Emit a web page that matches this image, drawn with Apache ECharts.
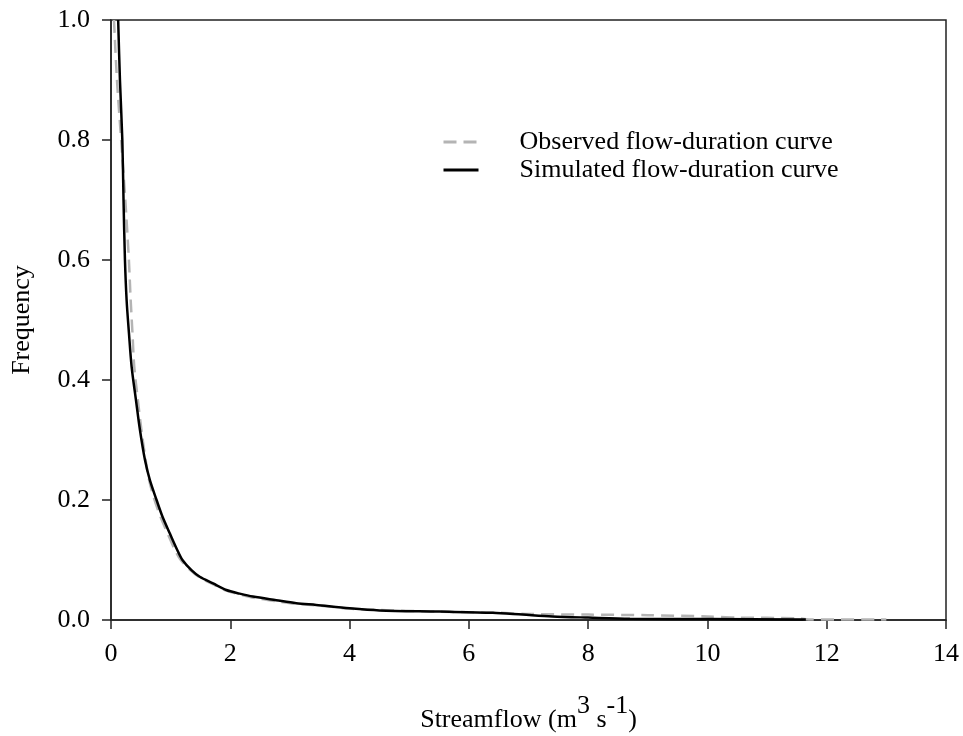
<!DOCTYPE html>
<html>
<head>
<meta charset="utf-8">
<script src="https://cdn.jsdelivr.net/npm/echarts@6/dist/echarts.min.js"></script>
<style>
  html, body { margin: 0; padding: 0; background: #fff; }
  #chart { width: 963px; height: 736px; }
</style>
</head>
<body>
<div id="chart"></div>
<script>
  // observed flow-duration curve
  var obsFlow = [0.05, 0.1, 0.17, 0.24, 0.30, 0.33, 0.36, 0.39, 0.45, 0.51, 0.58, 0.64, 0.73, 0.83, 0.95,
    1.07, 1.17, 1.33, 1.47, 1.7, 1.93, 2.15, 2.4, 2.8, 3.1, 3.5, 4.0, 4.7, 5.5, 6.5, 7.0, 8.0, 9.0,
    10.0, 10.5, 11.5, 11.7, 13.0];
  var obsFreq = [1.0, 0.9, 0.8, 0.7, 0.6, 0.533, 0.478, 0.422, 0.367, 0.317, 0.267, 0.233, 0.2, 0.172, 0.144,
    0.117, 0.1, 0.083, 0.072, 0.06, 0.049, 0.043, 0.037, 0.031, 0.027, 0.024, 0.019, 0.016, 0.014, 0.012, 0.01, 0.009, 0.008,
    0.006, 0.004, 0.003, 0.001, 0.001];

  // simulated flow-duration curve
  var simFlow = [0.12, 0.15, 0.19, 0.21, 0.234, 0.262, 0.301, 0.346, 0.418, 0.485, 0.569, 0.652, 0.764, 0.864, 0.987,
    1.109, 1.198, 1.349, 1.488, 1.711, 1.934, 2.157, 2.38, 2.77, 3.105, 3.44, 4.0, 4.5, 5.5, 6.4, 6.9, 7.4, 8.0,
    8.7, 10.0, 11.65];
  var simFreq = [1.0, 0.9, 0.8, 0.7, 0.6, 0.533, 0.478, 0.422, 0.367, 0.317, 0.267, 0.233, 0.2, 0.172, 0.144,
    0.117, 0.1, 0.083, 0.072, 0.061, 0.05, 0.044, 0.039, 0.033, 0.028, 0.025, 0.0195, 0.016, 0.014, 0.012, 0.009, 0.006, 0.004,
    0.002, 0.0015, 0.001];

  var xTicks = [0, 2, 4, 6, 8, 10, 12, 14];
  var yTicks = [0, 0.2, 0.4, 0.6, 0.8, 1.0];

  function pairs(xs, ys) {
    var out = [];
    for (var i = 0; i < xs.length; i++) {
      out.push([xs[i], ys[i]]);
    }
    return out;
  }

  var font = "'Liberation Serif', 'Times New Roman', serif";
  var chart = echarts.init(document.getElementById('chart'));

  var option = {
    backgroundColor: '#fff',
    animation: false,
    textStyle: { fontFamily: font },
    grid: {
      left: 111, right: 17, top: 20, bottom: 116,
      outerBoundsMode: 'none',
      containLabel: false,
      show: true, borderColor: '#222', borderWidth: 1.5
    },
    legend: {
      orient: 'vertical',
      left: 437,
      top: 123,
      itemWidth: 35,
      itemHeight: 14,
      itemGap: 0,
      itemStyle: { opacity: 0 },
      lineStyle: { width: 3 },
      textStyle: { fontFamily: font, fontSize: 26, color: '#000', lineHeight: 28, padding: [0, 0, 0, 36] },
      data: ['Observed flow-duration curve', 'Simulated flow-duration curve']
    },
    xAxis: {
      type: 'value',
      min: xTicks[0],
      max: xTicks[xTicks.length - 1],
      interval: 2,
      name: '{n|Streamflow (m}{s|3}{n| s}{s|-1}{n|)}',
      nameLocation: 'middle',
      nameGap: 80,
      nameTextStyle: {
        rich: {
          n: { fontFamily: font, fontSize: 26, color: '#000', lineHeight: 26, padding: [14, 0, 0, 0] },
          s: { fontFamily: font, fontSize: 26, color: '#000', lineHeight: 26, padding: [0, 0, 14, 0] }
        }
      },
      axisLine: { show: true, lineStyle: { color: '#222', width: 1.5 } },
      axisTick: { show: true, inside: false, length: 9, lineStyle: { color: '#222', width: 1.5 } },
      axisLabel: { fontFamily: font, fontSize: 26, color: '#000', margin: 21 },
      splitLine: { show: false }
    },
    yAxis: {
      type: 'value',
      min: yTicks[0],
      max: yTicks[yTicks.length - 1],
      interval: 0.2,
      name: 'Frequency',
      nameLocation: 'middle',
      nameGap: 76,
      nameTextStyle: { fontFamily: font, fontSize: 26, color: '#000' },
      axisLine: { show: true, lineStyle: { color: '#222', width: 1.5 } },
      axisTick: { show: true, inside: false, length: 9, lineStyle: { color: '#222', width: 1.5 } },
      axisLabel: {
        fontFamily: font, fontSize: 26, color: '#000', margin: 21,
        formatter: function (v) { return v.toFixed(1); }
      },
      splitLine: { show: false }
    },
    series: [
      {
        name: 'Observed flow-duration curve',
        type: 'line',
        data: pairs(obsFlow, obsFreq),
        showSymbol: false,
        symbol: 'none',
        smooth: 0.3,
        lineStyle: { color: '#b4b4b4', width: 2.5, type: [13, 7] },
        itemStyle: { color: '#b4b4b4' }
      },
      {
        name: 'Simulated flow-duration curve',
        type: 'line',
        data: pairs(simFlow, simFreq),
        showSymbol: false,
        symbol: 'none',
        smooth: 0.3,
        lineStyle: { color: '#000', width: 2.5 },
        itemStyle: { color: '#000' }
      }
    ]
  };

  chart.setOption(option);
</script>
</body>
</html>
